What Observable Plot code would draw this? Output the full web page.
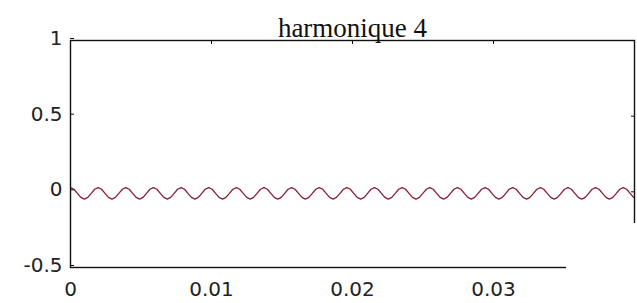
<!DOCTYPE html>
<html>
<head>
<meta charset="utf-8">
<script src="https://cdn.jsdelivr.net/npm/d3@7"></script>
<script src="https://cdn.jsdelivr.net/npm/@observablehq/plot@0.6"></script>
<style>
  html, body { margin: 0; padding: 0; background: #fff; }
  #wrap { position: relative; width: 637px; height: 303px; overflow: hidden; }
  #mask { position: absolute; left: 566px; top: 223px; width: 71px; height: 80px; background: #fff; }
</style>
</head>
<body>
<div id="wrap"><div id="mask"></div></div>
<script>
// Chart values
const title = "harmonique 4";
const sampleStep = 0.000245; // seconds between samples
const signal = [
  0.028, 0.017, -0.010, -0.037, -0.048, -0.037, -0.010, 0.017,
  0.028, 0.017, -0.010, -0.037, -0.048, -0.037, -0.010, 0.017,
  0.028, 0.017, -0.010, -0.037, -0.048, -0.037, -0.010, 0.017,
  0.028, 0.017, -0.010, -0.037, -0.048, -0.037, -0.010, 0.017,
  0.028, 0.017, -0.010, -0.037, -0.048, -0.037, -0.010, 0.017,
  0.028, 0.017, -0.010, -0.037, -0.048, -0.037, -0.010, 0.017,
  0.028, 0.017, -0.010, -0.037, -0.048, -0.037, -0.010, 0.017,
  0.028, 0.017, -0.010, -0.037, -0.048, -0.037, -0.010, 0.017,
  0.028, 0.017, -0.010, -0.037, -0.048, -0.037, -0.010, 0.017,
  0.028, 0.017, -0.010, -0.037, -0.048, -0.037, -0.010, 0.017,
  0.028, 0.017, -0.010, -0.037, -0.048, -0.037, -0.010, 0.017,
  0.028, 0.017, -0.010, -0.037, -0.048, -0.037, -0.010, 0.017,
  0.028, 0.017, -0.010, -0.037, -0.048, -0.037, -0.010, 0.017,
  0.028, 0.017, -0.010, -0.037, -0.048, -0.037, -0.010, 0.017,
  0.028, 0.017, -0.010, -0.037, -0.048, -0.037, -0.010, 0.017,
  0.028, 0.017, -0.010, -0.037, -0.048, -0.037, -0.010, 0.017,
  0.028, 0.017, -0.010, -0.037, -0.048, -0.037, -0.010, 0.017,
  0.028, 0.017, -0.010, -0.037, -0.048, -0.037, -0.010, 0.017,
  0.028, 0.017, -0.010, -0.037, -0.048, -0.037, -0.010, 0.017,
  0.028, 0.017, -0.010, -0.037, -0.048, -0.037, -0.010, 0.017,
  0.028, 0.017, -0.010, -0.037
];
const xTicks = [0, 0.01, 0.02, 0.03];
const xTickLabels = ["0", "0.01", "0.02", "0.03"];
const yTicks = [-0.5, 0, 0.5, 1];
const yTickLabels = ["-0.5", "0", "0.5", "1"];

const data = signal.map((v, i) => ({t: i * sampleStep, v}));

const tickFont = {fontSize: 20, fontFamily: "DejaVu Sans", fill: "#222"};

const chart = Plot.plot({
  width: 637,
  height: 303,
  marginLeft: 70,
  marginRight: 3,
  marginTop: 40,
  marginBottom: 36,
  style: {background: "transparent", overflow: "visible"},
  x: {domain: [0, 0.04]},
  y: {domain: [-0.5, 1]},
  marks: [
    Plot.line(data, {x: "t", y: "v", stroke: "#8a2035", strokeWidth: 1.3}),
    Plot.frame({stroke: "#111", strokeWidth: 1.4}),
    // left axis: inward ticks + labels
    Plot.axisY({anchor: "left", ticks: yTicks, tickSize: -4, tickPadding: 12,
      tickFormat: (d) => yTickLabels[yTicks.indexOf(d)], label: null, dy: -2,
      stroke: "#111", ...tickFont}),
    // right axis: inward ticks only
    Plot.axisY({anchor: "right", ticks: yTicks, tickSize: -4, text: null, label: null, stroke: "#111"}),
    // bottom axis labels
    Plot.axisX({anchor: "bottom", ticks: xTicks, tickSize: 0, tickPadding: 14,
      tickFormat: (d) => xTickLabels[xTicks.indexOf(d)], label: null, ...tickFont}),
    // top axis: inward ticks only
    Plot.axisX({anchor: "top", ticks: xTicks, tickSize: -3, text: null, label: null, stroke: "#111"}),
    Plot.text([title], {frameAnchor: "top", dy: -23, fontFamily: "Liberation Serif", fontSize: 27, fill: "#111"})
  ]
});

document.getElementById("wrap").insertBefore(chart, document.getElementById("mask"));
</script>
</body>
</html>
